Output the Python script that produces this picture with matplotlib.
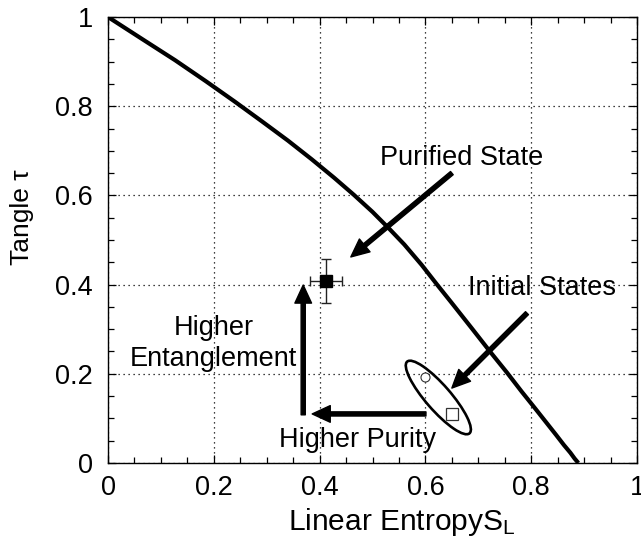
import numpy as np
import matplotlib
matplotlib.use("Agg")
import matplotlib.pyplot as plt
from matplotlib.patches import Ellipse
from matplotlib.transforms import ScaledTranslation

plt.rcParams['font.family'] = ['Liberation Sans', 'DejaVu Sans']
plt.rcParams['mathtext.default'] = 'regular'

# boundary curve (linear entropy, tangle)
boundary_entropy = [0.0, 0.064, 0.127, 0.185, 0.240, 0.291, 0.340, 0.385, 0.427,
                    0.465, 0.500, 0.531, 0.560, 0.593, 0.622, 0.649, 0.687, 0.722,
                    0.754, 0.782, 0.807, 0.829, 0.847, 0.862, 0.874, 0.882, 0.887, 0.889]
boundary_tangle = [1.0, 0.951, 0.903, 0.856, 0.810, 0.766, 0.723, 0.681, 0.640,
                   0.601, 0.563, 0.526, 0.490, 0.444, 0.400, 0.360, 0.303, 0.250,
                   0.203, 0.160, 0.123, 0.090, 0.063, 0.040, 0.023, 0.010, 0.003, 0.0]

# measured states
initial_entropy = [0.600, 0.650]
initial_tangle = [0.193, 0.110]
purified_entropy = [0.412]
purified_tangle = [0.408]
purified_xerr = [0.030]
purified_yerr = [0.050]

fig = plt.figure(figsize=(6.41, 5.40), dpi=100)
ax = fig.add_axes([0.1685, 0.1426, 0.8253, 0.8259])

ax.plot(boundary_entropy, boundary_tangle, color='black', lw=3.0, solid_capstyle='butt', zorder=3)

ax.errorbar(purified_entropy, purified_tangle, xerr=purified_xerr, yerr=purified_yerr,
            fmt='s', color='black', ms=8, ecolor='#222222', elinewidth=1, capsize=3.5,
            capthick=1, zorder=4)
ax.plot(initial_entropy[0], initial_tangle[0], 'o', mfc='white', mec='#333333', ms=6.5,
        mew=0.8, zorder=4)
ax.plot(initial_entropy[1], initial_tangle[1], 's', mfc='white', mec='#333333', ms=9,
        mew=0.9, zorder=4)

# ellipse around the initial states, sized in pixels
ell = Ellipse((0, 0), width=0.95, height=0.25, angle=-49, fill=False, ec='black', lw=1.9,
              transform=fig.dpi_scale_trans + ScaledTranslation(0.6244, 0.1469, ax.transData),
              zorder=3)
ax.add_patch(ell)

arrow = dict(facecolor='black', edgecolor='black', width=3.0, headwidth=12,
             headlength=13, shrink=0)
ax.annotate('', xy=(0.459, 0.462), xytext=(0.650, 0.650), arrowprops=arrow, zorder=5)
ax.annotate('', xy=(0.650, 0.168), xytext=(0.792, 0.336), arrowprops=arrow, zorder=5)
ax.annotate('', xy=(0.369, 0.399), xytext=(0.369, 0.108), arrowprops=arrow, zorder=5)
ax.annotate('', xy=(0.386, 0.110), xytext=(0.601, 0.110), arrowprops=arrow, zorder=5)

ax.text(0.669, 0.684, 'Purified State', fontsize=19.5, ha='center', va='center')
ax.text(0.820, 0.392, 'Initial States', fontsize=19.5, ha='center', va='center')
ax.text(0.200, 0.268, 'Higher\nEntanglement', fontsize=19.5, ha='center', va='center',
        linespacing=1.25)
ax.text(0.471, 0.052, 'Higher Purity', fontsize=19.5, ha='center', va='center')

ax.set_xlim(0, 1)
ax.set_ylim(0, 1)
ticks = [0, 0.2, 0.4, 0.6, 0.8, 1]
ax.set_xticks(ticks)
ax.set_yticks(ticks)
ax.set_xticklabels(['0', '0.2', '0.4', '0.6', '0.8', '1'])
ax.set_yticklabels(['0', '0.2', '0.4', '0.6', '0.8', '1'])
ax.set_xticks(np.arange(0, 1.001, 0.05), minor=True)
ax.set_yticks(np.arange(0, 1.001, 0.05), minor=True)
ax.tick_params(which='both', direction='in', top=True, right=True, labelsize=19.5,
               width=0.9, color='black')
ax.tick_params(which='major', length=6)
ax.tick_params(axis='x', which='major', pad=9)
ax.tick_params(axis='y', which='major', pad=11)
ax.tick_params(which='minor', length=4)
ax.grid(True, which='major', color='black', linestyle=(0, (1, 3)), lw=0.9)
for s in ax.spines.values():
    s.set_linewidth(1.0)

ax.set_xlabel('Linear EntropyS$_{L}$', fontsize=21.5)
ax.xaxis.set_label_coords(0.556, -0.097)
ax.set_ylabel('Tangle τ', fontsize=19)
ax.yaxis.set_label_coords(-0.163, 0.552)
ax.yaxis.label.set_va('center')

fig.savefig('out.png', dpi=100)
